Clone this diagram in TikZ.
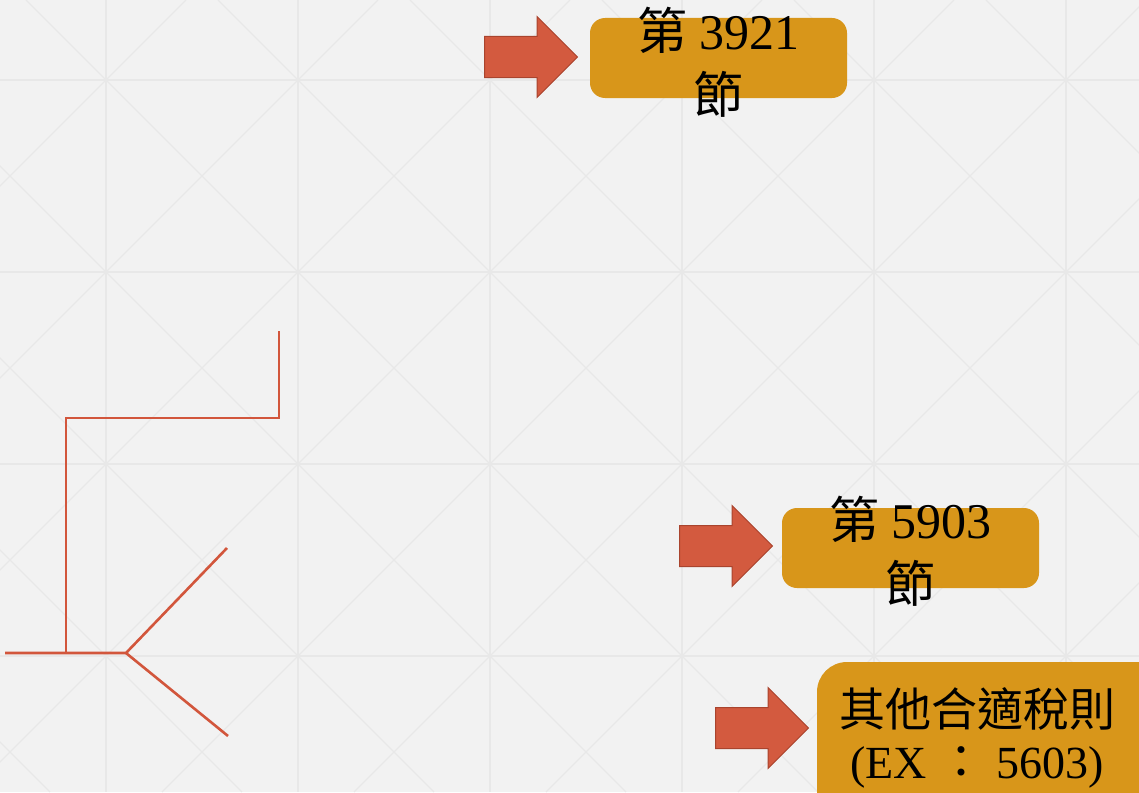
\documentclass[tikz,border=0pt]{standalone}
\usepackage{fontspec}
\setmainfont{Liberation Serif}
\newfontfamily\cjk{Noto Sans CJK TC}
\usetikzlibrary{shapes.arrows}

\definecolor{bggray}{HTML}{F2F2F2}
\definecolor{gridgray}{HTML}{E8E8E8}
\definecolor{boxgold}{HTML}{D8961A}
\definecolor{arrowred}{HTML}{D35A3F}
\definecolor{arrowedge}{HTML}{A9442E}
\definecolor{linered}{HTML}{D2563C}

\begin{document}
\begin{tikzpicture}[x=1pt,y=-1pt,
    gridline/.style={draw=gridgray,line width=1.2pt},
    redline/.style={draw=linered,line width=2.6pt},
    goldbox/.style={fill=boxgold,rounded corners=15pt,inner sep=0pt},
    blockarrow/.style={single arrow,fill=arrowred,draw=arrowedge,line width=1pt,
      minimum height=93pt,single arrow head extend=20pt,
      single arrow head indent=0pt,inner xsep=0pt,inner ysep=20pt,anchor=tail},
    boxtext/.style={align=center,inner sep=0pt,font=\fontsize{50}{64}\selectfont}]

    % page and background grid
    \clip (0,0) rectangle (1139,792);
    \fill[bggray] (0,0) rectangle (1139,792);
    \foreach \x in {106,298,...,1066}
    \draw[gridline] (\x,0) -- (\x,792);
    \foreach \y in {80,272,...,656}
    \draw[gridline] (0,\y) -- (1139,\y);
    \foreach \c in {-934,-742,...,1178}
    \draw[gridline] (\c,0) -- (\c+792,792);
    \foreach \c in {-6,186,...,2106}
    \draw[gridline] (\c,0) -- (\c-792,792);

    % red tree lines
    \coordinate (stub) at (279,331);
    \coordinate (bend) at (279,418);
    \coordinate (corner) at (66,418);
    \coordinate (joint) at (66,653);
    \coordinate (root) at (5,653);
    \coordinate (fork) at (126,653);
    \coordinate (upper) at (227,548);
    \coordinate (lower) at (228,736);
    \draw[redline] (stub) -- (bend) -- (corner) -- (joint);
    \draw[redline] (root) -- (fork) -- (upper);
    \draw[redline] (fork) -- (lower);

    % first box
    \node[blockarrow] (arr1) at (484,57) {};
    \node[goldbox,minimum width=257pt,minimum height=80pt] (box1) at (718.5,58) {};
    \node[boxtext] (txt1) at ([yshift=-4pt]box1.center) {{\cjk 第} 3921\\{\cjk 節}};

    % second box
    \node[blockarrow] (arr2) at (679,546) {};
    \node[goldbox,minimum width=257pt,minimum height=80pt] (box2) at (910.5,548) {};
    \node[boxtext] (txt2) at ([yshift=-3pt]box2.center) {{\cjk 第} 5903\\{\cjk 節}};

    % third box
    \node[blockarrow] (arr3) at (715,728) {};
    \node[goldbox,rounded corners=30pt,minimum width=352pt,minimum height=160pt] (box3) at (993,742) {};
    \node[boxtext,font=\fontsize{46}{52}\selectfont] (txt3) at (977,738)
      {{\cjk 其他合適稅則}\\(EX {\cjk ：} 5603)};
  \end{tikzpicture}
\end{document}
